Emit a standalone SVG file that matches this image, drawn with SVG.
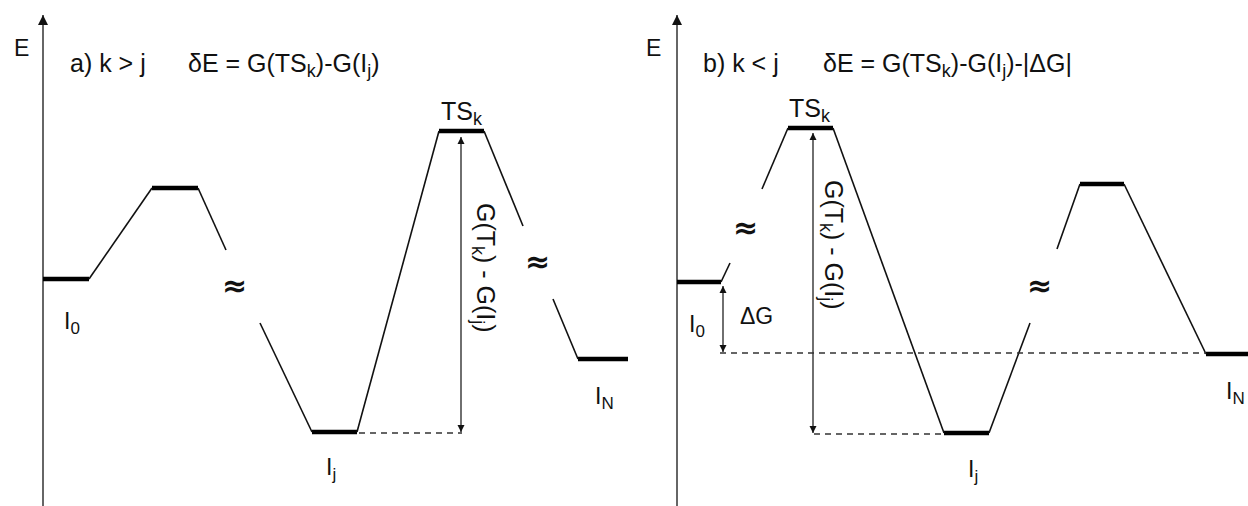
<svg xmlns="http://www.w3.org/2000/svg" width="1248" height="506" viewBox="0 0 1248 506">
<defs>
<style>
text{font-family:"Liberation Sans",Arial,sans-serif;fill:#111;}
.t{font-size:23px;}
.s{font-size:17px;}
.f{font-size:25px;}
.fs{font-size:18px;}
.ax{stroke:#666;stroke-width:2;fill:none;}
.ln{stroke:#111;stroke-width:1.6;fill:none;}
.lv{stroke:#000;stroke-width:4.5;fill:none;}
.da{stroke:#333;stroke-width:1.4;stroke-dasharray:6,5;fill:none;}
.ar{stroke:#333;stroke-width:1.4;fill:none;}
.apx{font-size:30px;font-weight:bold;font-family:"DejaVu Sans",sans-serif;}
</style>
<marker id="ah" viewBox="0 0 10 10" refX="10" refY="5" markerWidth="7" markerHeight="11" markerUnits="userSpaceOnUse" orient="auto-start-reverse">
<path d="M0,0 L10,5 L0,10 z" fill="#111"/>
</marker>
<marker id="axh" viewBox="0 0 10 10" refX="10" refY="5" markerWidth="16" markerHeight="10" markerUnits="userSpaceOnUse" orient="auto">
<path d="M0,0 L10,5 L0,10 z" fill="#111"/>
</marker>
</defs>
<rect width="1248" height="506" fill="#fff"/>

<!-- Panel a -->
<g id="axis-a">
<line class="ax" x1="43" y1="506" x2="43" y2="15" marker-end="url(#axh)"/>
<text class="t" x="14" y="56">E</text>
</g>
<g id="title-a">
<text class="f" x="70" y="72">a) k &gt; j</text>
<text class="f" x="188" y="72">δE = G(TS<tspan class="fs" dy="5">k</tspan><tspan dy="-5">)-G(I</tspan><tspan class="fs" dy="5">j</tspan><tspan dy="-5">)</tspan></text>
</g>
<g id="a-I0">
<line class="lv" x1="43" y1="279" x2="89" y2="279"/>
<text class="t" x="64" y="329">I<tspan class="s" dy="5">0</tspan></text>
</g>
<g id="a-TS1">
<line class="lv" x1="152" y1="188" x2="198" y2="188"/>
</g>
<g id="a-Ij">
<line class="lv" x1="312" y1="432" x2="357" y2="432"/>
<text class="t" x="326" y="475">I<tspan class="s" dy="5">j</tspan></text>
</g>
<g id="a-TSk">
<line class="lv" x1="439" y1="131" x2="484" y2="131"/>
<text class="f" x="441" y="120">TS<tspan class="fs" dy="5">k</tspan></text>
</g>
<g id="a-IN">
<line class="lv" x1="578" y1="359" x2="628" y2="359"/>
<text class="t" x="595" y="404">I<tspan class="s" dy="5">N</tspan></text>
</g>
<g id="a-breaks">
<text class="apx" x="222" y="296">≈</text>
<text class="apx" x="525" y="272">≈</text>
</g>
<g id="a-dE">
<text class="f" transform="translate(477,203) rotate(90)">G(T<tspan class="fs" dy="5">k</tspan><tspan dy="-5">) - G(I</tspan><tspan class="fs" dy="5">j</tspan><tspan dy="-5">)</tspan></text>
</g>
<g id="connectors-a">
<line class="ln" x1="89" y1="279" x2="152" y2="188"/>
<line class="ln" x1="198" y1="188" x2="226" y2="250"/>
<line class="ln" x1="260" y1="323" x2="312" y2="432"/>
<line class="ln" x1="357" y1="432" x2="439" y2="131"/>
<line class="ln" x1="484" y1="131" x2="523" y2="226"/>
<line class="ln" x1="553" y1="299" x2="578" y2="359"/>
<line class="da" x1="359" y1="433" x2="462" y2="433"/>
<line class="ar" x1="461" y1="137" x2="461" y2="432" marker-start="url(#ah)" marker-end="url(#ah)"/>
</g>

<!-- Panel b -->
<g id="axis-b">
<line class="ax" x1="677" y1="506" x2="677" y2="15" marker-end="url(#axh)"/>
<text class="t" x="646" y="56">E</text>
</g>
<g id="title-b">
<text class="f" x="703" y="72">b) k &lt; j</text>
<text class="f" x="823" y="72">δE = G(TS<tspan class="fs" dy="5">k</tspan><tspan dy="-5">)-G(I</tspan><tspan class="fs" dy="5">j</tspan><tspan dy="-5">)-|ΔG|</tspan></text>
</g>
<g id="b-I0">
<line class="lv" x1="677" y1="282" x2="721" y2="282"/>
<text class="t" x="689" y="332">I<tspan class="s" dy="5">0</tspan></text>
</g>
<g id="b-TSk">
<line class="lv" x1="788" y1="128" x2="833" y2="128"/>
<text class="f" x="789" y="117">TS<tspan class="fs" dy="5">k</tspan></text>
</g>
<g id="b-Ij">
<line class="lv" x1="944" y1="433" x2="989" y2="433"/>
<text class="t" x="968" y="477">I<tspan class="s" dy="5">j</tspan></text>
</g>
<g id="b-TS2">
<line class="lv" x1="1080" y1="184" x2="1124" y2="184"/>
</g>
<g id="b-IN">
<line class="lv" x1="1206" y1="354" x2="1248" y2="354"/>
<text class="t" x="1226" y="399">I<tspan class="s" dy="5">N</tspan></text>
</g>
<g id="b-breaks">
<text class="apx" x="733" y="238">≈</text>
<text class="apx" x="1027" y="296">≈</text>
</g>
<g id="b-dG">
<text class="t" x="740" y="324">ΔG</text>
</g>
<g id="b-dE">
<text class="f" transform="translate(825,180) rotate(90)">G(T<tspan class="fs" dy="5">k</tspan><tspan dy="-5">) - G(I</tspan><tspan class="fs" dy="5">j</tspan><tspan dy="-5">)</tspan></text>
</g>
<g id="connectors-b">
<line class="ln" x1="721" y1="282" x2="730" y2="263"/>
<line class="ln" x1="762" y1="189" x2="788" y2="128"/>
<line class="ln" x1="833" y1="128" x2="944" y2="433"/>
<line class="ln" x1="989" y1="433" x2="1030" y2="323"/>
<line class="ln" x1="1057" y1="249" x2="1080" y2="184"/>
<line class="ln" x1="1124" y1="184" x2="1206" y2="354"/>
<line class="da" x1="720" y1="353" x2="1206" y2="353"/>
<line class="da" x1="814" y1="434" x2="944" y2="434"/>
<line class="ar" x1="723" y1="286" x2="723" y2="352" marker-start="url(#ah)" marker-end="url(#ah)"/>
<line class="ar" x1="813" y1="133" x2="813" y2="433" marker-start="url(#ah)" marker-end="url(#ah)"/>
</g>
</svg>
